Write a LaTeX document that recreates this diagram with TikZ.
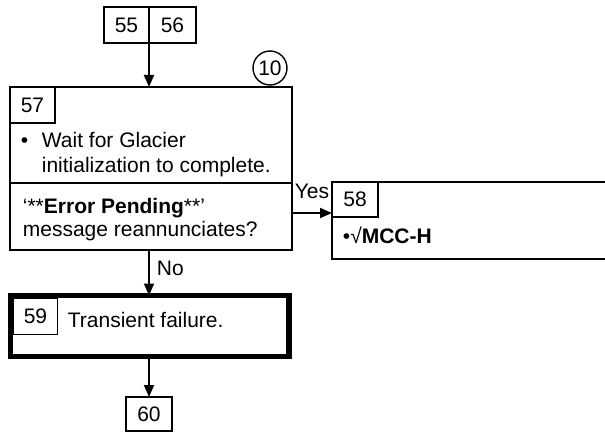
\documentclass[tikz,border=0pt]{standalone}
\usepackage{fontspec}
\setmainfont{Liberation Sans}
\usetikzlibrary{arrows.meta}
\begin{document}
\begin{tikzpicture}[x=1pt,y=-1pt,line width=1.8pt,
  box/.style={draw,inner sep=0pt,outer sep=0pt,text depth=0pt,font=\fontsize{21}{24}\selectfont},
  thickbox/.style={draw,inner sep=0pt,outer sep=0pt,line width=5.5pt},
  txt/.style={anchor=base west,inner sep=0pt,font=\fontsize{21}{24}\selectfont},
  arr/.style={-{Triangle[length=12pt,width=10pt]},line width=1.8pt}]
\useasboundingbox (0,0) rectangle (605,433);
% top boxes
\node[box,minimum width=45pt,minimum height=36pt] (b55) at (126.5,25) {55};
\node[box,minimum width=47pt,minimum height=36pt] (b56) at (172.5,25) {56};
% box 57
\node[box,minimum width=282pt,minimum height=163pt] (b57) at (151,168.5) {};
\node[box,minimum width=45pt,minimum height=36pt] (n57) at (32.5,105) {57};
\coordinate (d57) at (0,183);
\draw (b57.west |- d57) -- (b57.east |- d57);
\node[txt] at (20,148) {•};
\node[txt] (t1) at (41,148) {Wait for Glacier};
\node[txt] (t2) at (41,172) {initialization to complete.};
\node[txt] (t3) at (22,213) {‘**\textbf{Error Pending}**’};
\node[txt] (t4) at (22,236) {message reannunciates?};
% circle 10
\node[draw,circle,minimum size=34pt,inner sep=0pt,line width=1.4pt,font=\fontsize{21}{24}\selectfont] (c10) at (270,68) {10};
% box 58
\node[box,minimum width=308pt,minimum height=77pt] (b58) at (486,220.5) {};
\node[box,minimum width=46pt,minimum height=35pt] (n58) at (355,199.5) {58};
\node[txt] (t58) at (342,243) {•√\textbf{MCC-H}};
% box 59
\node[thickbox,minimum width=278.5pt,minimum height=61pt] (b59) at (149.75,326) {};
\node[box,minimum width=44pt,minimum height=36pt,anchor=north west] (n59) at (13.5,298.5) {59};
\node[txt] (t59) at (67,327) {Transient failure.};
% box 60
\node[box,minimum width=46pt,minimum height=34pt] (b60) at (149,414) {60};
% connectors
\coordinate (yesy) at (0,213);
\draw[arr] (b55.south east) -- (b55.south east |- b57.north);
\draw[arr] (b57.east |- yesy) -- (b58.west |- yesy);
\node[txt] at (294,198) {Yes};
\draw[arr] (b55.south east |- b57.south) -- (b55.south east |- b59.north);
\node[txt] at (156,275) {No};
\draw[arr] (b60.north |- b59.south) -- (b60.north);
\end{tikzpicture}
\end{document}
